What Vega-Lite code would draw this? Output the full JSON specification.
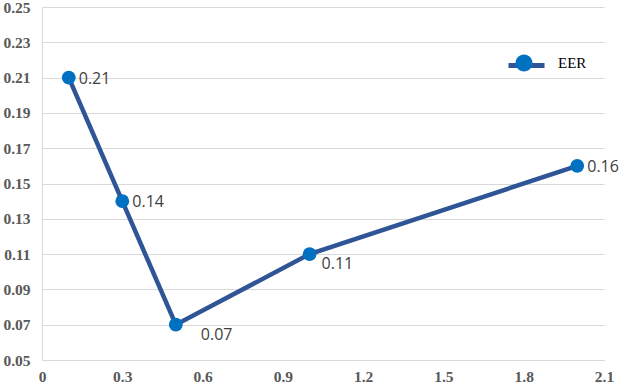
{
  "$schema": "https://vega.github.io/schema/vega-lite/v6.json",
  "autosize": "none",
  "width": 562,
  "height": 353,
  "padding": {"left": 42, "top": 7, "right": 16, "bottom": 24},
  "background": "white",
  "config": {"view": {"stroke": null}},
  "data": {"values": [
    {"x": 0.1, "eer": 0.21, "series": "EER", "pos": "right"},
    {"x": 0.3, "eer": 0.14, "series": "EER", "pos": "right"},
    {"x": 0.5, "eer": 0.07, "series": "EER", "pos": "below_far"},
    {"x": 1.0, "eer": 0.11, "series": "EER", "pos": "below"},
    {"x": 2.0, "eer": 0.16, "series": "EER", "pos": "right"}
  ]},
  "encoding": {
    "x": {"field": "x", "type": "quantitative",
      "scale": {"domain": [0, 2.1], "nice": false, "zero": false},
      "axis": {"title": null, "values": [0, 0.3, 0.6, 0.9, 1.2, 1.5, 1.8, 2.1], "format": ".1~f",
        "grid": false, "ticks": false, "domainColor": "#d9d9d9", "domainWidth": 1,
        "labelFont": "Liberation Serif", "labelFontWeight": "bold", "labelFontSize": 15.5,
        "labelColor": "#595959", "labelPadding": 9, "labelFlush": false}},
    "y": {"field": "eer", "type": "quantitative",
      "scale": {"domain": [0.05, 0.25], "nice": false, "zero": false},
      "axis": {"title": null, "values": [0.05, 0.07, 0.09, 0.11, 0.13, 0.15, 0.17, 0.19, 0.21, 0.23, 0.25], "format": ".2f",
        "grid": true, "gridColor": "#d9d9d9", "gridWidth": 1, "ticks": false,
        "domainColor": "#d9d9d9", "domainWidth": 1,
        "labelFont": "Liberation Serif", "labelFontWeight": "bold", "labelFontSize": 15.5,
        "labelColor": "#595959", "labelPadding": 12, "labelFlush": false}}
  },
  "layer": [
    {"mark": {"type": "line", "strokeWidth": 4.5},
     "encoding": {"stroke": {"datum": "EER", "type": "nominal",
       "scale": {"domain": ["EER"], "range": ["#2F5597"]},
       "legend": {"title": null, "orient": "none", "legendX": 464, "legendY": 38,
         "symbolType": "M-1,0H1",
         "symbolSize": 1296, "symbolStrokeWidth": 5, "symbolOpacity": 1,
         "labelExpr": "''", "labelFontSize": 15, "labelOffset": 16}}}},
    {"mark": {"type": "point", "filled": true, "size": 190, "opacity": 1},
     "encoding": {"fill": {"field": "series", "type": "nominal",
       "scale": {"range": ["#0070C0"]},
       "legend": {"title": null, "orient": "none", "legendX": 464, "legendY": 38,
         "symbolType": "M0.47,0A0.47,0.47 0 1,1 -0.47,0A0.47,0.47 0 1,1 0.47,0Z",
         "symbolSize": 1296, "symbolStrokeWidth": 0, "symbolOpacity": 1,
         "labelFont": "Liberation Serif", "labelFontSize": 15, "labelColor": "#000000", "labelOffset": 16}}}},
    {"transform": [{"filter": "datum.pos == 'right'"}],
     "mark": {"type": "text", "align": "left", "baseline": "middle", "dx": 10, "dy": 1,
       "font": "Open Sans", "fontSize": 16, "color": "#404040"},
     "encoding": {"text": {"field": "eer", "type": "quantitative", "format": ".2f"}}},
    {"transform": [{"filter": "datum.pos == 'below'"}],
     "mark": {"type": "text", "align": "left", "baseline": "middle", "dx": 12, "dy": 10,
       "font": "Open Sans", "fontSize": 16, "color": "#404040"},
     "encoding": {"text": {"field": "eer", "type": "quantitative", "format": ".2f"}}},
    {"transform": [{"filter": "datum.pos == 'below_far'"}],
     "mark": {"type": "text", "align": "left", "baseline": "middle", "dx": 25, "dy": 10,
       "font": "Open Sans", "fontSize": 16, "color": "#404040"},
     "encoding": {"text": {"field": "eer", "type": "quantitative", "format": ".2f"}}}
  ]
}
